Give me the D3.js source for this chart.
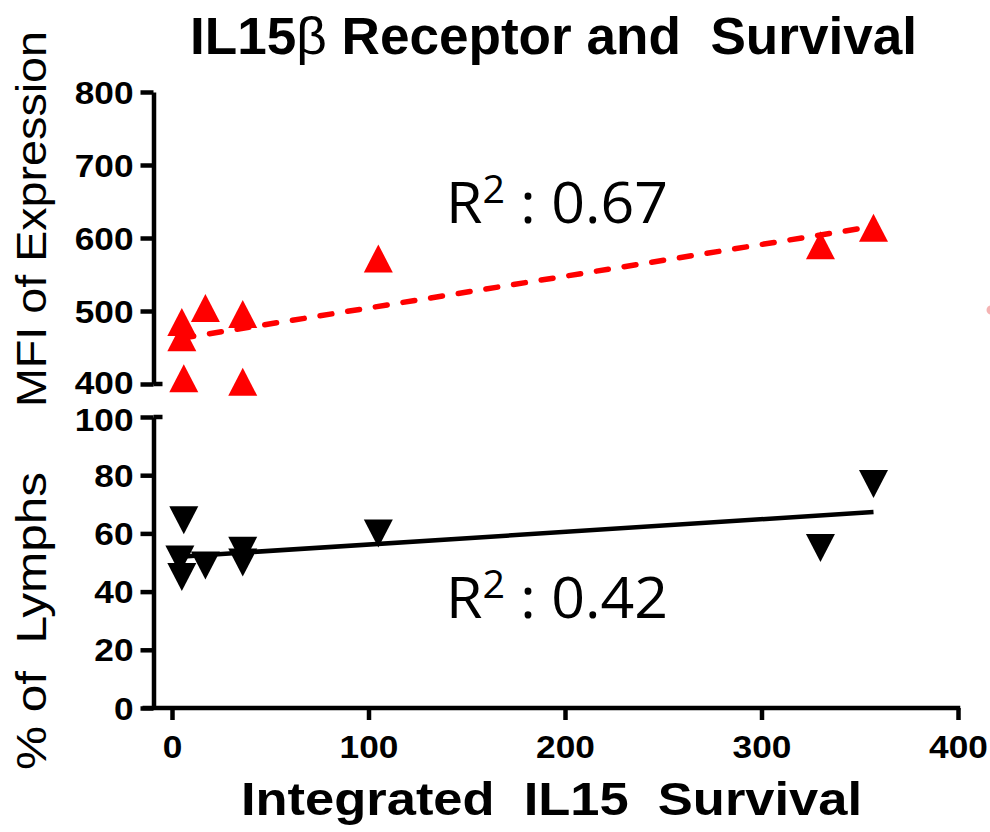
<!DOCTYPE html>
<html>
<head>
<meta charset="utf-8">
<script src="https://cdn.jsdelivr.net/npm/d3@7"></script>
<style>
  html, body { margin: 0; padding: 0; background: #fff; }
  svg { display: block; }
  text { font-family: "Liberation Sans", Arial, sans-serif; white-space: pre; }
</style>
</head>
<body>
<svg id="chart" width="990" height="832"></svg>
<script>
// Integrated IL15 survival (x) against IL15β receptor MFI (top panel)
const mfiSurvival = [5, 5, 6, 17, 36, 36, 105, 330, 357];
const mfiValues   = [485, 464, 408, 504, 496, 403, 572, 590, 614];

// Integrated IL15 survival (x) against % of lymphocytes (bottom panel)
const lymphSurvival = [6, 4, 5, 17, 36, 36, 105, 330, 357];
const lymphValues   = [64.5, 51, 45, 49, 54, 50, 60, 55, 77];

const xTicks      = [0, 100, 200, 300, 400];
const mfiTicks    = [400, 500, 600, 700, 800];
const lymphTicks  = [0, 20, 40, 60, 80, 100];
const rSquared    = ["0.67", "0.42"];

const titleParts  = ["IL15", "\u03B2", " Receptor and  Survival"];
const xLabelText  = "Integrated  IL15  Survival";
const mfiLabel    = "MFI of Expression";
const lymphLabel  = "% of  Lymphs";

const svg = d3.select("#chart");
const RED = "#ff0000";
const AXW = 4.5;

const x = d3.scaleLinear().domain([0, 400]).range([172, 958]);
const yTop = d3.scaleLinear().domain([400, 800]).range([384, 92]);
const yBot = d3.scaleLinear().domain([0, 100]).range([708, 417]);
const axisX = 153.5;

// least-squares fit
function fit(xs, ys) {
  const mx = d3.mean(xs), my = d3.mean(ys);
  let sxy = 0, sxx = 0;
  xs.forEach((v, i) => { sxy += (v - mx) * (ys[i] - my); sxx += (v - mx) ** 2; });
  const slope = sxy / sxx;
  return { slope, intercept: my - slope * mx };
}

function styleAxis(g, digitW) {
  g.selectAll("path.domain").attr("stroke", "#000").attr("stroke-width", AXW);
  g.selectAll(".tick line").attr("stroke", "#000").attr("stroke-width", AXW);
  g.selectAll(".tick text")
    .attr("fill", "#000")
    .style("font-size", "31px")
    .style("font-weight", "bold")
    .attr("textLength", function () { return this.textContent.length * digitW; })
    .attr("lengthAdjust", "spacingAndGlyphs");
}

// top y axis
const gTop = svg.append("g").attr("transform", `translate(${axisX},0)`)
  .call(d3.axisLeft(yTop).tickValues(mfiTicks).tickFormat(d3.format("d"))
    .tickSize(13).tickSizeOuter(0).tickPadding(7));
styleAxis(gTop, 19.6);
gTop.selectAll(".tick text").attr("dy", d => d === 400 ? "0.3em" : "0.36em");
svg.append("line")
  .attr("x1", axisX).attr("x2", axisX + 9)
  .attr("y1", yTop(400)).attr("y2", yTop(400))
  .attr("stroke", "#000").attr("stroke-width", AXW);

// bottom y axis
const gBot = svg.append("g").attr("transform", `translate(${axisX},0)`)
  .call(d3.axisLeft(yBot).tickValues(lymphTicks).tickFormat(d3.format("d"))
    .tickSize(13).tickSizeOuter(0).tickPadding(7));
styleAxis(gBot, 19.6);
gBot.selectAll(".tick text").attr("dy", d => d === 100 ? "0.42em" : "0.36em");
svg.append("line")
  .attr("x1", axisX).attr("x2", axisX + 9)
  .attr("y1", yBot(100)).attr("y2", yBot(100))
  .attr("stroke", "#000").attr("stroke-width", AXW);

// x axis
const gX = svg.append("g").attr("transform", `translate(0,${yBot(0)})`)
  .call(d3.axisBottom(x).tickValues(xTicks).tickFormat(d3.format("d"))
    .tickSize(12).tickSizeOuter(0).tickPadding(16));
styleAxis(gX, 19.6);
gX.select("path.domain").remove();
svg.append("line")
  .attr("x1", axisX - 11).attr("x2", x(400) + AXW / 2)
  .attr("y1", yBot(0)).attr("y2", yBot(0))
  .attr("stroke", "#000").attr("stroke-width", AXW);

// regression lines
const fTop = fit(mfiSurvival, mfiValues);
const fBot = fit(lymphSurvival, lymphValues);
const line = d3.line();

const topExt = d3.extent(mfiSurvival);
svg.append("path")
  .attr("d", line(topExt.map(v => [x(v), yTop(fTop.intercept + fTop.slope * v)])))
  .attr("fill", "none").attr("stroke", RED).attr("stroke-width", 5.5)
  .attr("stroke-linecap", "round").attr("stroke-dasharray", "12,16");

const botExt = d3.extent(lymphSurvival);
svg.append("path")
  .attr("d", line(botExt.map(v => [x(v), yBot(fBot.intercept + fBot.slope * v)])))
  .attr("fill", "none").attr("stroke", "#000").attr("stroke-width", 4.5);

// triangle markers
const TW = 29, TH = 28;
function triUp(cx, cy) {
  return `M${cx},${cy - TH / 2}L${cx + TW / 2},${cy + TH / 2}L${cx - TW / 2},${cy + TH / 2}Z`;
}
function triDown(cx, cy) {
  return `M${cx},${cy + TH / 2}L${cx + TW / 2},${cy - TH / 2}L${cx - TW / 2},${cy - TH / 2}Z`;
}

svg.append("g").selectAll("path")
  .data(mfiValues.map((v, i) => [mfiSurvival[i], v]))
  .join("path")
  .attr("d", d => triUp(x(d[0]), yTop(d[1])))
  .attr("fill", RED);

svg.append("g").selectAll("path")
  .data(lymphValues.map((v, i) => [lymphSurvival[i], v]))
  .join("path")
  .attr("d", d => triDown(x(d[0]), yBot(d[1])))
  .attr("fill", "#000");

// R² annotations
function rLabel(yBase, val) {
  const t = svg.append("text")
    .attr("x", 446).attr("y", yBase)
    .style("font-family", "'Open Sans', 'Noto Sans', sans-serif")
    .style("font-size", "57px").attr("fill", "#000")
    .attr("textLength", 222).attr("lengthAdjust", "spacingAndGlyphs");
  t.append("tspan").text("R");
  t.append("tspan").attr("dy", -20).style("font-size", "38px").text("2");
  t.append("tspan").attr("dy", 20).text(" : " + val);
}
rLabel(223, rSquared[0]);
rLabel(618, rSquared[1]);

// title
const title = svg.append("text")
  .attr("x", 190).attr("y", 54)
  .style("font-size", "51px").style("font-weight", "bold")
  .attr("textLength", 727).attr("lengthAdjust", "spacingAndGlyphs");
title.append("tspan").text(titleParts[0]);
title.append("tspan").style("font-weight", "normal").text(titleParts[1]);
title.append("tspan").text(titleParts[2]);

// x axis title
svg.append("text")
  .attr("x", 241).attr("y", 815)
  .style("font-size", "46px").style("font-weight", "bold")
  .attr("textLength", 621).attr("lengthAdjust", "spacingAndGlyphs")
  .text(xLabelText);

// y axis titles
svg.append("text")
  .attr("transform", "translate(46,407) rotate(-90)")
  .style("font-size", "42px")
  .attr("textLength", 376).attr("lengthAdjust", "spacingAndGlyphs")
  .text(mfiLabel);

svg.append("text")
  .attr("transform", "translate(46,770) rotate(-90)")
  .style("font-size", "42px")
  .attr("textLength", 298).attr("lengthAdjust", "spacingAndGlyphs")
  .text(lymphLabel);

// faint stray mark at the right edge
svg.append("circle")
  .attr("cx", 991).attr("cy", 310).attr("r", 4.5)
  .attr("fill", "#f5b3b3");
</script>
</body>
</html>
